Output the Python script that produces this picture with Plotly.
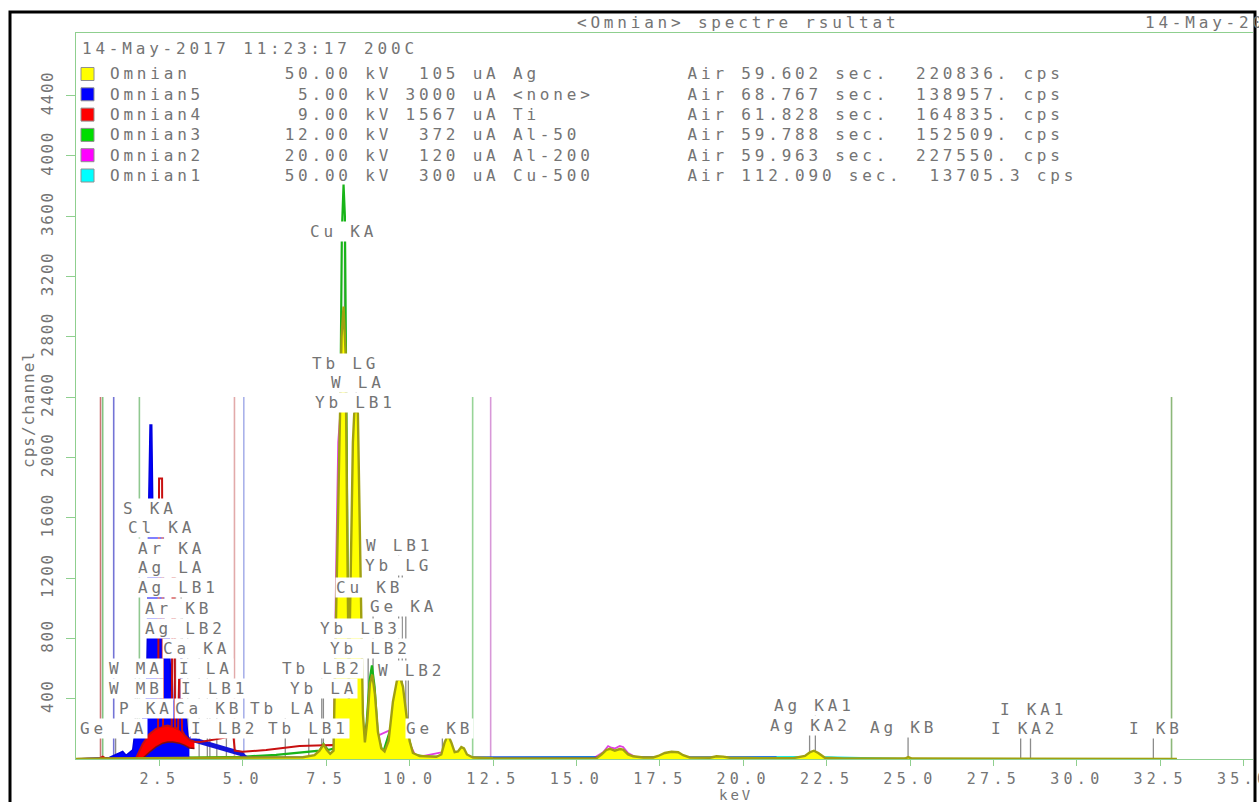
import plotly.graph_objects as go

# ---------------------------------------------------------------------------
# Spectra: energy (keV) and intensity (cps/channel) for each acquisition
# ---------------------------------------------------------------------------
OMNIAN_KEV = [0.0, 0.5, 1.0, 2.0, 3.0, 4.0, 5.0, 6.0, 6.8, 7.15, 7.3, 7.42, 7.52, 7.62, 7.72,
              7.80, 7.88, 7.96, 8.02, 8.08, 8.13, 8.16, 8.18, 8.21, 8.26, 8.30, 8.34, 8.40, 8.45,
              8.50, 8.55, 8.60, 8.66, 8.73, 8.81, 8.88, 8.96, 9.05, 9.15, 9.25, 9.37, 9.50, 9.62,
              9.72, 9.80, 9.90, 10.0, 10.1, 10.3, 10.8, 10.95, 11.05, 11.15, 11.25, 11.35, 11.45,
              11.55, 11.63, 11.72, 11.9, 12.5, 14.0, 15.6, 15.75, 15.9, 16.0, 16.15, 16.3, 16.4,
              16.55, 16.7, 17.0, 17.3, 17.45, 17.65, 17.85, 18.05, 18.2, 18.4, 19.0, 19.2, 19.4,
              19.6, 20.5, 21.5, 21.85, 22.0, 22.12, 22.25, 22.45, 23.0, 24.85, 24.95, 25.05, 29.0,
              33.0]
OMNIAN_CPS = [0, 3, 4, 5, 6, 6, 6, 8, 12, 25, 55, 95, 60, 35, 55,
              1000, 2000, 2800, 3000, 2700, 1500, 900, 400, 900, 1700, 2100, 2290, 2330, 2290,
              1700, 900, 300, 110, 250, 500, 560, 430, 180, 70, 50, 120, 380, 520,
              537, 480, 300, 120, 40, 20, 15, 30, 110, 160, 110, 45, 50,
              80, 70, 30, 10, 5, 3, 5, 30, 60, 68, 55, 66, 62,
              30, 18, 10, 10, 20, 40, 48, 45, 25, 10, 8, 18, 16,
              8, 6, 6, 20, 45, 55, 40, 8, 3, 3, 13, 3, 2,
              0]

OMNIAN5_KEV = [0.0, 0.5, 1.0, 1.3, 1.4, 1.5, 1.6, 1.7, 1.75, 1.85, 1.95, 2.0, 2.1, 2.14, 2.18,
               2.22, 2.27, 2.3, 2.45, 2.55, 2.6, 2.64, 2.8, 2.84, 2.87, 2.9, 3.0, 3.1, 3.15,
               3.18, 3.3, 3.36, 3.4, 3.6, 3.8, 4.0, 4.2, 4.4, 4.6, 4.8, 4.95, 5.05, 5.15, 21.0]
OMNIAN5_CPS = [0, 5, 10, 40, 50, 25, 40, 60, 150, 150, 140, 270, 290, 820, 1700,
               2215, 2215, 1700, 1680, 1700, 1650, 820, 800, 450, 670, 400, 290, 280, 670,
               280, 270, 150, 135, 122, 110, 98, 85, 72, 60, 48, 35, 12, 0, 0]
OMNIAN5_FILL_UP_TO = 3.4  # dense peak region drawn filled, tail drawn as a trace line

OMNIAN4_KEV = [0.0, 0.7, 0.8, 0.9, 1.7, 1.8, 2.0, 2.2, 2.4, 2.46, 2.49, 2.58, 2.61, 2.75, 2.87,
               2.9, 2.94, 2.97, 3.06, 3.09, 3.15, 3.18, 3.25, 3.4, 3.55, 3.7, 3.9, 4.2, 4.5,
               4.72, 4.76, 5.0, 5.7, 6.7, 7.7, 8.2, 8.7, 9.2, 9.8, 10.5]
OMNIAN4_CPS = [0, 3, 15, 3, 3, 5, 100, 165, 200, 205, 1860, 1860, 215, 222, 212,
               1350, 1350, 208, 198, 525, 525, 188, 160, 126, 115, 112, 120, 133, 143,
               152, 55, 48, 60, 86, 93, 80, 55, 25, 5, 0]
# channel-to-channel scatter of the 9 kV hump (upper / lower envelope)
OMNIAN4_BAND_KEV = [1.8, 2.0, 2.2, 2.4, 2.6, 2.75, 2.9, 3.1, 3.25, 3.4, 3.55]
OMNIAN4_BAND_HI = [5, 100, 165, 200, 215, 222, 210, 190, 160, 126, 115]
OMNIAN4_BAND_LO = [0, 5, 45, 80, 105, 113, 112, 105, 92, 73, 70]

OMNIAN3_KEV = [0.0, 1.0, 1.8, 2.2, 2.28, 2.32, 2.36, 2.55, 2.6, 2.64, 2.9, 2.97, 3.02, 3.5, 4.0,
               5.0, 6.0, 6.7, 7.3, 7.42, 7.55, 7.75, 7.85, 7.92, 7.97, 8.02, 8.06, 8.11, 8.16,
               8.22, 8.32, 8.40, 8.50, 8.60, 8.70, 8.80, 8.87, 8.95, 9.05, 9.2, 9.5, 9.65, 9.75,
               9.9, 10.1, 10.5, 11.0, 11.15, 11.3, 11.6, 12.0]
OMNIAN3_CPS = [0, 0, 5, 10, 75, 80, 15, 20, 80, 20, 15, 40, 10, 10, 12,
               15, 28, 42, 55, 100, 60, 70, 500, 2200, 3500, 3810, 3600, 2200, 700,
               400, 1200, 1800, 1000, 200, 200, 520, 620, 480, 150, 40, 250, 430, 420,
               200, 30, 15, 15, 40, 15, 10, 0]

OMNIAN2_KEV = [0.0, 2.0, 5.0, 7.0, 7.6, 7.72, 7.80, 7.86, 7.94, 8.02, 8.10, 8.17, 8.26, 8.40,
               8.50, 8.60, 8.80, 8.88, 9.0, 9.5, 9.7, 9.9, 10.2, 11.1, 11.5, 12.0, 15.5, 15.8,
               15.95, 16.05, 16.15, 16.3, 16.4, 16.55, 16.8, 17.5, 17.8, 18.1, 18.4, 19.5, 21.8,
               22.1, 22.4, 23.0]
OMNIAN2_CPS = [0, 2, 3, 5, 20, 40, 1300, 2100, 2350, 2400, 1700, 500, 800, 1700,
               900, 150, 300, 350, 150, 200, 330, 150, 10, 50, 10, 3, 3, 45,
               86, 75, 70, 86, 80, 40, 10, 8, 35, 30, 5, 3, 3,
               30, 3, 0]

OMNIAN1_KEV = [0.0, 7.9, 8.05, 8.2, 16.0, 17.8, 22.1, 25.0, 28.0, 33.0]
OMNIAN1_CPS = [0, 5, 20, 5, 15, 10, 15, 2, 0, 0]

# Acquisition windows shown as vertical cursors
RANGE_KEV = [0.735, 0.80, 1.13, 1.90, 4.75, 5.03, 11.89, 12.43, 32.84]
RANGE_COLORS = ["#cc7474", "#82c482", "#7474d6", "#90c890", "#e2aaaa", "#aab2ea",
                "#98d498", "#d898d8", "#8cb87a"]
RANGE_TOP = 2400

# Element line identifications: element, line, energy, label anchor (keV), label row (cps)
LINE_EL = ["Cu", "Tb", "W", "Yb", "S", "Cl", "Ar", "Ag", "Ag", "Ar", "Ag", "Ca", "W", "I",
           "W", "I", "P", "Ca", "Tb", "Ge", "I", "Tb", "Tb", "Yb", "Yb", "Yb", "Cu", "Ge",
           "W", "Yb", "W", "Ge", "Ag", "Ag", "Ag", "I", "I", "I"]
LINE_NAME = ["KA", "LG", "LA", "LB1", "KA", "KA", "KA", "LA", "LB1", "KB", "LB2", "KA", "MA",
             "LA", "MB", "LB1", "KA", "KB", "LA", "LA", "LB2", "LB1", "LB2", "LA", "LB2", "LB3",
             "KB", "KA", "LB1", "LG", "LB2", "KB", "KA1", "KA2", "KB", "KA1", "KA2", "KB"]
LINE_KEV = [8.048, 8.102, 8.398, 8.402, 2.307, 2.622, 2.957, 2.984, 3.151, 3.190, 3.348,
            3.691, 1.775, 3.937, 1.835, 4.221, 2.013, 4.013, 6.273, 1.188, 4.508, 6.978,
            7.367, 7.416, 8.758, 8.536, 8.905, 9.886, 9.672, 9.780, 9.962, 10.982, 22.163,
            21.990, 24.942, 28.612, 28.317, 32.295]
LABEL_AT_KEV = [8.20, 8.26, 8.41, 8.35, 2.17, 2.74, 3.04, 3.04, 3.04, 3.25, 3.25, 3.79, 1.75,
                3.85, 1.75, 3.91, 2.05, 4.15, 6.40, 1.30, 4.21, 6.94, 7.36, 7.60, 8.80, 8.50,
                8.98, 10.0, 9.46, 9.85, 9.82, 11.07, 22.11, 21.99, 24.98, 28.46, 28.19, 32.33]
LABEL_CPS = [3495, 2626, 2500, 2367, 1664, 1532, 1399, 1267, 1134, 999, 866, 732, 599, 599,
             465, 465, 332, 332, 332, 199, 199, 199, 599, 465, 732, 866, 1134, 1008, 1419,
             1280, 590, 199, 355, 225, 206, 330, 199, 199]

# Header / legend text
LEG_NAMES = ["Omnian", "Omnian5", "Omnian4", "Omnian3", "Omnian2", "Omnian1"]
LEG_KV = ["50.00", "5.00", "9.00", "12.00", "20.00", "50.00"]
LEG_UA = ["105", "3000", "1567", "372", "120", "300"]
LEG_FILTER = ["Ag", "<none>", "Ti", "Al-50", "Al-200", "Cu-500"]
LEG_SEC = ["59.602", "68.767", "61.828", "59.788", "59.963", "112.090"]
LEG_CPS = ["220836.", "138957.", "164835.", "152509.", "227550.", "13705.3"]
LEG_COLORS = ["#ffff00", "#0000ff", "#ff0000", "#00dd00", "#ff00ff", "#00ffff"]

X_TICKS = [2.5, 5.0, 7.5, 10.0, 12.5, 15.0, 17.5, 20.0, 22.5, 25.0, 27.5, 30.0, 32.5, 35.0]
Y_TICKS = [400, 800, 1200, 1600, 2000, 2400, 2800, 3200, 3600, 4000, 4400]

# ---------------------------------------------------------------------------
W, H = 1259, 802
ML, MR, MT, MB = 76, 6, 33, 43
PW, PH = W - ML - MR, H - MT - MB
X_MAX = PW / 33.36
Y_MAX = PH / 0.1508

MONO = "DejaVu Sans Mono"
GREY = "#747474"
AXIS_GREEN = "#8fcf8f"
FS = 16
SPACING = 3.8
PITCH = 0.602 * FS + SPACING


def px(x):
    return (x - ML) / PW


def py(y):
    return (H - MB - y) / PH


def mono(s, ls=SPACING):
    s = s.replace("&", "&amp;").replace("<", "&lt;").replace(">", "&gt;").replace(" ", "\u00a0")
    return f'<span style="letter-spacing:{ls}px">{s}</span>'


fig = go.Figure()

# acquisition window cursors
for e, c in zip(RANGE_KEV, RANGE_COLORS):
    fig.add_trace(go.Scatter(x=[e, e], y=[0, RANGE_TOP], mode="lines",
                             line=dict(color=c, width=1.6), hoverinfo="skip"))

# identification markers, from the baseline up to the label row
LABEL_HALF = 8 / 0.1508
mk_x, mk_y = [], []
for e, lv in zip(LINE_KEV, LABEL_CPS):
    mk_x += [e, e, None]
    mk_y += [0, lv - LABEL_HALF, None]
fig.add_trace(go.Scatter(x=mk_x, y=mk_y, mode="lines", line=dict(color="#8c8c8c", width=1.3),
                         hoverinfo="skip"))

# Omnian1 (cyan), Omnian2 (magenta), Omnian3 (green)
fig.add_trace(go.Scatter(x=OMNIAN1_KEV, y=OMNIAN1_CPS, mode="lines", name="Omnian1",
                         line=dict(color="#00e5e5", width=1.5)))
fig.add_trace(go.Scatter(x=OMNIAN2_KEV, y=OMNIAN2_CPS, mode="lines", name="Omnian2",
                         line=dict(color="#e040e0", width=1.8)))
fig.add_trace(go.Scatter(x=OMNIAN3_KEV, y=OMNIAN3_CPS, mode="lines", name="Omnian3",
                         line=dict(color="#18b418", width=2.2)))

# Omnian5 (blue): dense peak region filled, tail as a thick trace
n_fill = sum(1 for e in OMNIAN5_KEV if e <= OMNIAN5_FILL_UP_TO)
fig.add_trace(go.Scatter(x=OMNIAN5_KEV[:n_fill], y=OMNIAN5_CPS[:n_fill], mode="lines",
                         name="Omnian5", fill="tozeroy", fillcolor="#0000ff",
                         line=dict(color="#0000e0", width=1.5)))
fig.add_trace(go.Scatter(x=OMNIAN5_KEV[n_fill - 1:], y=OMNIAN5_CPS[n_fill - 1:], mode="lines",
                         showlegend=False, line=dict(color="#1414d8", width=5)))

# Omnian4 (red): scatter band and the trace itself
fig.add_trace(go.Scatter(x=OMNIAN4_BAND_KEV, y=OMNIAN4_BAND_LO, mode="lines",
                         showlegend=False, line=dict(color="#801010", width=1.5)))
fig.add_trace(go.Scatter(x=OMNIAN4_BAND_KEV, y=OMNIAN4_BAND_HI, mode="lines",
                         showlegend=False, fill="tonexty", fillcolor="#ff0000",
                         line=dict(color="#e00000", width=1)))
fig.add_trace(go.Scatter(x=OMNIAN4_KEV, y=OMNIAN4_CPS, mode="lines", name="Omnian4",
                         line=dict(color="#c81010", width=2)))

# Omnian (yellow): filled spectrum, outline drawn last
fig.add_trace(go.Scatter(x=OMNIAN_KEV, y=OMNIAN_CPS, mode="lines", name="Omnian",
                         fill="tozeroy", fillcolor="#ffff00", line=dict(width=0)))
fig.add_trace(go.Scatter(x=OMNIAN_KEV, y=OMNIAN_CPS, mode="lines", showlegend=False,
                         line=dict(color="#a0a010", width=2.4)))

annotations = []
shapes = []
TXT = dict(family=MONO, size=FS, color=GREY)

# line identification labels
for el, ln, at, lv in zip(LINE_EL, LINE_NAME, LABEL_AT_KEV, LABEL_CPS):
    annotations.append(dict(x=at, y=lv, xref="x", yref="y", text=mono(el + " " + ln),
                            xanchor="left", yanchor="middle", xshift=-(len(el) + 1) * PITCH,
                            showarrow=False, bgcolor="white", borderpad=0, font=TXT))

# header
annotations.append(dict(x=px(575), y=py(22), xref="paper", yref="paper",
                        text=mono("<Omnian> spectre rsultat"), xanchor="left",
                        yanchor="middle", showarrow=False, font=TXT))
annotations.append(dict(x=px(1143), y=py(22), xref="paper", yref="paper",
                        text=mono("14-May-2017"), xanchor="left", yanchor="middle",
                        showarrow=False, font=TXT))
annotations.append(dict(x=px(80), y=py(48), xref="paper", yref="paper",
                        text=mono("14-May-2017 11:23:17 200C"), xanchor="left",
                        yanchor="middle", showarrow=False, font=TXT))

# legend rows
for i, (nm, kv, ua, flt, sec, cps, col) in enumerate(
        zip(LEG_NAMES, LEG_KV, LEG_UA, LEG_FILTER, LEG_SEC, LEG_CPS, LEG_COLORS)):
    yrow = 74 + 20.3 * i
    row = f"{nm:<13}{kv:>5} kV {ua:>4} uA {flt:<13}Air {sec} sec.  {cps} cps"
    annotations.append(dict(x=px(108), y=py(yrow), xref="paper", yref="paper",
                            text=mono(row), xanchor="left", yanchor="middle",
                            showarrow=False, font=TXT))
    shapes.append(dict(type="rect", xref="paper", yref="paper",
                       x0=px(81), x1=px(94), y0=py(yrow + 6.5), y1=py(yrow - 6.5),
                       fillcolor=col, line=dict(color="#909090", width=1)))

# axis titles
annotations.append(dict(x=px(28), y=py(410), xref="paper", yref="paper",
                        text=mono("cps/channel", 1.0), textangle=-90, showarrow=False,
                        xanchor="center", yanchor="middle", font=TXT))
annotations.append(dict(x=px(736), y=py(794.5), xref="paper", yref="paper",
                        text=mono("keV", 3.0), showarrow=False, xanchor="center",
                        yanchor="middle", font=dict(family=MONO, size=14, color=GREY)))

# outer frame
shapes.append(dict(type="rect", xref="paper", yref="paper", x0=px(10), x1=px(1255),
                   y0=py(830), y1=py(12), line=dict(color="black", width=3),
                   fillcolor="rgba(0,0,0,0)", layer="above"))

fig.update_layout(
    width=W, height=H, margin=dict(l=ML, r=MR, t=MT, b=MB, autoexpand=False),
    paper_bgcolor="white", plot_bgcolor="white", showlegend=False,
    annotations=annotations, shapes=shapes,
    xaxis=dict(range=[0, X_MAX], showgrid=False, zeroline=False, showline=True,
               linecolor=AXIS_GREEN, linewidth=1, mirror=True, ticks="outside",
               ticklen=6, tickcolor=AXIS_GREEN, tickvals=X_TICKS, automargin=False,
               ticktext=[mono(f"{v:.1f}", 4.3) for v in X_TICKS], ticklabeloverflow="allow",
               ticklabelstandoff=0, tickfont=dict(family=MONO, size=15, color=GREY)),
    yaxis=dict(range=[0, Y_MAX], showgrid=False, zeroline=False, showline=True,
               linecolor=AXIS_GREEN, linewidth=1, ticks="outside", ticklen=9,
               tickcolor=AXIS_GREEN, tickvals=Y_TICKS, automargin=False,
               ticktext=[mono(str(v), 1.5) for v in Y_TICKS], tickangle=-90,
               ticklabelstandoff=7, tickfont=TXT),
)

fig.write_html("out.html")
